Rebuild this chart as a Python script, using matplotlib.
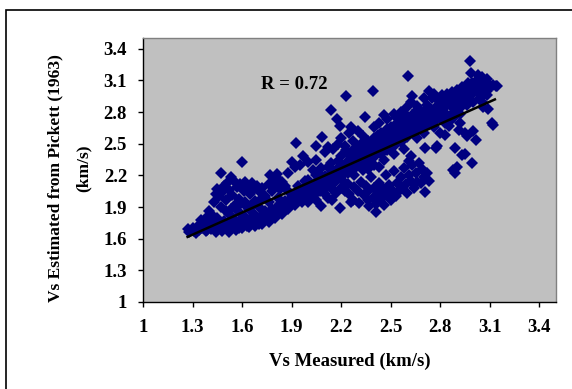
import matplotlib
matplotlib.use("Agg")
import matplotlib.pyplot as plt
from matplotlib.patches import Rectangle

# main diagonal band of measurements
band_x = [1.27, 1.28, 1.30, 1.31, 1.33, 1.34, 1.36, 1.37, 1.38, 1.40, 1.41, 1.42, 1.43, 1.45,
          1.46, 1.47, 1.49, 1.50, 1.51, 1.53, 1.54, 1.55, 1.57, 1.58, 1.59, 1.61, 1.62, 1.63,
          1.65, 1.66, 1.67, 1.69, 1.70, 1.71, 1.73, 1.74, 1.75, 1.77, 1.78, 1.79, 1.81, 1.82,
          1.83, 1.85, 1.86, 1.87, 1.89, 1.90, 1.91, 1.93, 1.94, 1.95, 1.97, 1.98, 1.99, 2.01,
          2.02, 2.03, 2.05, 2.06, 2.07, 2.09, 2.10, 2.11, 2.13, 2.14, 2.15, 2.17, 2.18, 2.19,
          2.21, 2.22, 2.23, 2.25, 2.26, 2.27, 2.29, 2.30, 2.31, 2.33, 2.34, 2.35, 2.37, 2.38,
          2.39, 2.41, 2.42, 2.43, 2.45, 2.46, 2.47, 2.49, 2.50, 2.51, 2.53, 2.54, 2.55, 2.57,
          2.58, 2.59, 2.61, 2.62, 2.63, 2.65, 2.66, 2.67, 2.69, 2.70, 2.71, 2.73, 2.74, 2.75,
          2.77, 2.78, 2.79, 2.81, 2.82, 2.83, 2.85, 2.86, 2.87, 2.89, 2.90, 2.91, 2.93, 2.94,
          2.95, 2.97, 2.98, 2.99, 3.01, 3.02, 3.03, 3.05, 3.06, 3.07, 3.09, 3.10, 3.12, 3.14]
band_y = [1.69, 1.66, 1.70, 1.67, 1.72, 1.68, 1.70, 1.74, 1.67, 1.72, 1.69, 1.76, 1.71, 1.68,
          1.74, 1.70, 1.77, 1.72, 1.69, 1.75, 1.71, 1.79, 1.73, 1.70, 1.77, 1.74, 1.81, 1.72,
          1.78, 1.75, 1.83, 1.77, 1.74, 1.81, 1.79, 1.86, 1.82, 1.80, 1.88, 1.84, 1.90, 1.86,
          1.93, 1.89, 1.96, 1.92, 1.98, 1.94, 2.01, 1.97, 2.04, 2.00, 2.06, 2.02, 2.09, 2.05,
          2.11, 2.07, 2.14, 2.10, 2.16, 2.12, 2.19, 2.15, 2.21, 2.17, 2.24, 2.20, 2.27, 2.23,
          2.29, 2.25, 2.32, 2.28, 2.35, 2.31, 2.37, 2.33, 2.40, 2.36, 2.43, 2.39, 2.45, 2.41,
          2.48, 2.44, 2.50, 2.46, 2.53, 2.48, 2.55, 2.51, 2.58, 2.53, 2.60, 2.56, 2.63, 2.59,
          2.66, 2.61, 2.68, 2.64, 2.71, 2.67, 2.74, 2.69, 2.77, 2.72, 2.79, 2.75, 2.82, 2.77,
          2.84, 2.80, 2.87, 2.82, 2.89, 2.85, 2.92, 2.87, 2.94, 2.89, 2.96, 2.91, 2.98, 2.93,
          3.00, 2.95, 3.02, 2.97, 3.04, 2.99, 3.06, 3.01, 3.08, 3.03, 3.07, 3.04, 3.06, 3.05]

# lower edge of the band
low_x = [1.32, 1.39, 1.44, 1.48, 1.52, 1.56, 1.60, 1.64, 1.68, 1.72, 1.76, 1.80, 1.84, 1.88,
         1.92, 1.96, 2.00, 2.04, 2.08, 2.12, 2.16, 2.20, 2.24, 2.28, 2.32, 2.36, 2.40, 2.44,
         2.48, 2.52, 2.56, 2.60, 2.64, 2.68, 2.72, 2.76, 2.80, 2.84, 2.88, 2.92, 2.96, 3.00,
         3.04, 3.08]
low_y = [1.65, 1.68, 1.66, 1.67, 1.66, 1.68, 1.70, 1.71, 1.72, 1.74, 1.76, 1.80, 1.83, 1.88,
         1.92, 1.95, 1.99, 2.02, 2.06, 2.10, 2.14, 2.18, 2.22, 2.26, 2.29, 2.33, 2.37, 2.40,
         2.44, 2.48, 2.52, 2.56, 2.60, 2.64, 2.68, 2.71, 2.74, 2.77, 2.80, 2.84, 2.87, 2.90,
         2.93, 2.96]

# upper edge of the band
high_x = [1.35, 1.45, 1.52, 1.58, 1.64, 1.70, 1.76, 1.82, 1.88, 1.94, 2.00, 2.06, 2.12, 2.18,
          2.24, 2.30, 2.36, 2.42, 2.48, 2.54, 2.60, 2.66, 2.72, 2.78, 2.84, 2.90, 2.96, 3.02,
          3.08, 2.99, 3.05, 2.93, 2.87, 2.81, 2.75]
high_y = [1.78, 1.80, 1.83, 1.85, 1.88, 1.90, 1.95, 1.99, 2.05, 2.10, 2.16, 2.22, 2.28, 2.34,
          2.40, 2.47, 2.53, 2.58, 2.64, 2.70, 2.76, 2.82, 2.87, 2.92, 2.97, 3.01, 3.05, 3.10,
          3.11, 3.08, 3.13, 3.04, 2.99, 2.96, 2.93]

# extra points thickening the band
fill_x = [2.20, 2.23, 2.28, 2.32, 2.36, 2.40, 2.44, 2.47, 2.50, 2.55, 2.58, 2.63, 2.68, 2.72,
          2.80, 2.85, 2.90, 2.95, 3.00, 2.97, 3.02, 3.08, 2.83, 2.88, 2.92, 2.76, 2.70, 2.66,
          2.58, 2.52, 2.46, 2.40, 2.36, 2.05, 2.08, 1.98, 2.14]
fill_y = [2.38, 2.44, 2.45, 2.50, 2.47, 2.55, 2.60, 2.62, 2.66, 2.69, 2.73, 2.77, 2.80, 2.84,
          2.90, 2.95, 2.93, 2.90, 2.99, 3.08, 3.02, 3.00, 2.70, 2.75, 2.78, 2.66, 2.60, 2.55,
          2.45, 2.40, 2.35, 2.30, 2.26, 2.20, 2.27, 2.15, 2.32]

# cloud above the band at low velocities
left_x = [1.43, 1.44, 1.45, 1.46, 1.47, 1.48, 1.49, 1.50, 1.51, 1.52, 1.53, 1.54, 1.55, 1.56,
          1.57, 1.58, 1.59, 1.60, 1.61, 1.62, 1.63, 1.64, 1.65, 1.66, 1.67, 1.68, 1.69, 1.70,
          1.72, 1.74, 1.76, 1.77, 1.78, 1.79, 1.80, 1.81, 1.82, 1.83, 1.84, 1.86, 1.53, 1.58,
          1.50, 1.47, 1.40, 1.38, 1.42, 1.62, 1.66, 1.71]
left_y = [1.95, 2.02, 2.07, 2.00, 2.22, 2.04, 2.10, 1.97, 2.13, 2.06, 2.18, 2.01, 2.15, 1.93,
          2.09, 1.98, 2.12, 2.33, 2.05, 2.14, 1.90, 2.10, 2.02, 2.13, 2.07, 1.96, 2.10, 2.05,
          2.08, 2.00, 2.12, 2.20, 2.05, 2.15, 2.10, 2.21, 2.17, 2.07, 2.14, 2.10, 1.88, 1.92,
          1.86, 1.90, 1.86, 1.80, 1.82, 1.95, 1.92, 1.97]

# points above the band at intermediate velocities
mid_x = [1.925, 2.084, 1.97, 2.047, 2.047, 1.95, 2.00, 2.03, 2.10, 2.12, 2.15, 2.18, 2.20, 2.22,
         2.25, 2.27, 2.30, 2.33, 2.175, 2.19, 2.26, 2.345, 2.457, 2.53, 2.40, 2.43, 2.48, 2.52,
         2.56, 2.60, 2.627, 2.73, 2.62, 2.66, 2.70, 2.76, 1.88, 1.92, 1.90]
mid_y = [2.51, 2.565, 2.38, 2.35, 2.477, 2.30, 2.33, 2.25, 2.42, 2.47, 2.45, 2.50, 2.55, 2.48,
         2.60, 2.53, 2.62, 2.57, 2.73, 2.666, 2.66, 2.755, 2.768, 2.755, 2.66, 2.70, 2.73, 2.78,
         2.80, 2.85, 2.95, 3.00, 2.90, 2.86, 2.93, 2.97, 2.22, 2.28, 2.33]

# cloud below the band
lower_x = [2.00, 2.03, 2.05, 2.07, 2.08, 2.10, 2.12, 2.146, 2.15, 2.17, 2.19, 2.20, 2.22, 2.24,
           2.25, 2.27, 2.28, 2.30, 2.31, 2.32, 2.34, 2.35, 2.36, 2.37, 2.38, 2.39, 2.40, 2.41,
           2.413, 2.42, 2.43, 2.44, 2.45, 2.46, 2.47, 2.48, 2.49, 2.50, 2.51, 2.52, 2.53, 2.54,
           2.55, 2.56, 2.57, 2.58, 2.59, 2.60, 2.61, 2.62, 2.63, 2.64, 2.65, 2.66, 2.67, 2.68,
           2.69, 2.70, 2.709, 2.72, 2.73, 2.62, 2.61, 2.28, 2.33, 2.43, 2.37, 2.26, 2.21]
lower_y = [1.95, 2.00, 1.97, 2.05, 1.907, 2.02, 1.99, 1.97, 2.06, 2.03, 1.889, 2.08, 2.05, 2.12,
           2.02, 1.97, 2.09, 2.05, 1.94, 2.14, 2.01, 2.10, 1.97, 2.06, 2.18, 1.99, 2.08, 1.93,
           1.854, 2.03, 2.13, 1.98, 2.07, 1.92, 2.20, 2.02, 2.11, 1.97, 2.06, 2.24, 2.00, 2.13,
           2.05, 2.18, 2.09, 2.27, 2.12, 2.03, 2.20, 2.15, 2.30, 2.08, 2.22, 2.14, 2.32, 2.13,
           2.26, 2.18, 2.043, 2.22, 2.15, 2.38, 2.34, 2.20, 2.25, 2.28, 1.91, 1.95, 2.15]

# scatter below the band at high velocities
right_x = [2.709, 2.775, 2.85, 2.91, 2.96, 2.886, 2.875, 2.93, 3.018, 2.994, 2.90, 2.95, 3.00,
           2.80, 2.83, 2.78, 2.92, 3.09, 3.117, 3.11, 2.89, 2.95, 2.86, 3.06, 3.05]
right_y = [2.46, 2.46, 2.67, 2.63, 2.57, 2.46, 2.255, 2.397, 2.54, 2.315, 2.28, 2.60, 2.62,
           2.60, 2.58, 2.48, 2.70, 2.83, 2.673, 2.70, 2.22, 2.40, 2.72, 2.85, 2.90]

# isolated outliers
outlier_x = [2.978, 2.603, 2.395, 2.228, 2.139, 2.985, 3.137, 3.03]
outlier_y = [3.283, 3.138, 3.00, 2.957, 2.821, 3.169, 3.05, 3.15]

# regression line
trend_x = [1.27, 3.13]
trend_y = [1.617, 2.92]

ticks = [1.0, 1.3, 1.6, 1.9, 2.2, 2.5, 2.8, 3.1, 3.4]
tick_labels = ["1", "1.3", "1.6", "1.9", "2.2", "2.5", "2.8", "3.1", "3.4"]

xs = band_x + low_x + high_x + fill_x + left_x + mid_x + lower_x + right_x + outlier_x
ys = band_y + low_y + high_y + fill_y + left_y + mid_y + lower_y + right_y + outlier_y

serif = ["Liberation Serif", "DejaVu Serif"]

fig = plt.figure(figsize=(5.72, 3.89), dpi=100)
ax = fig.add_axes([0.25, 0.2237, 0.722, 0.678])
ax.set_facecolor("#C0C0C0")

ax.plot(xs, ys, linestyle="none", marker="D", markersize=6, color="#000080",
        markeredgewidth=0)
ax.plot(trend_x, trend_y, color="black", linewidth=1.8)

ax.text(1.713, 3.023, "R = 0.72", family=serif, fontweight="bold", fontsize=13.5,
        va="baseline", ha="left")

ax.set_xlim(1.0, 3.5)
ax.set_ylim(1.0, 3.5)
ax.set_xticks(ticks)
ax.set_yticks(ticks)
ax.set_xticklabels(tick_labels, family=serif, fontweight="bold", fontsize=13.5)
ax.set_yticklabels(tick_labels, family=serif, fontweight="bold", fontsize=13.5)
ax.tick_params(axis="x", direction="out", length=3.5, width=1, pad=9)
ax.tick_params(axis="y", direction="out", length=3.5, width=1, pad=8)

for side in ["left", "bottom"]:
    ax.spines[side].set_color("black")
    ax.spines[side].set_linewidth(1.0)
for side in ["top", "right"]:
    ax.spines[side].set_color("#808080")
    ax.spines[side].set_linewidth(1.0)

fig.text(349.5 / 572, 1 - 361 / 389, "Vs Measured (km/s)", family=serif,
         fontweight="bold", fontsize=13.5, ha="center", va="center")
fig.text(55 / 572, 1 - 178 / 389, "Vs Estimated from Pickett (1963)", family=serif,
         fontweight="bold", fontsize=12.5, rotation=90, ha="center", va="center")
fig.text(84 / 572, 1 - 168 / 389, "(km/s)", family=serif,
         fontweight="bold", fontsize=12.5, rotation=90, ha="center", va="center")

# outer chart border (runs off the right and bottom edges)
fig.patches.append(Rectangle((6 / 572, -0.1), 1.2, 1.1 - 10 / 389,
                             transform=fig.transFigure, fill=False,
                             edgecolor="black", linewidth=1.2))

fig.savefig("out.png", dpi=100)
